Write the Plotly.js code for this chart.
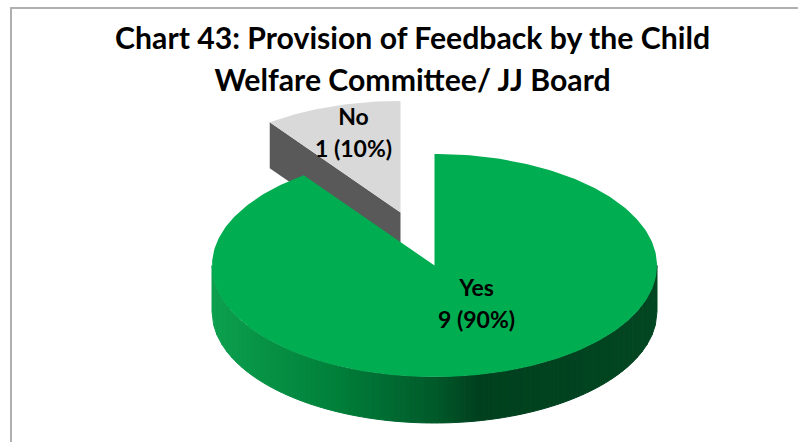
<!DOCTYPE html>
<html>
<head>
<meta charset="utf-8">
<script src="https://cdn.plot.ly/plotly-3.0.1.min.js"></script>
<style>html,body{margin:0;padding:0;background:#fff}#c{width:798px;height:442px}</style>
</head>
<body>
<div id="c"></div>
<script>
var categories = ['Yes', 'No'];
var values = [9, 1];
var titleLines = ['Chart 43: Provision of Feedback by the Child', 'Welfare Committee/ JJ Board'];

var W = 798, H = 442;
var cx = 434.5, cy = 265.5, rx = 222.5, ry = 111.5, depth = 46;
var explode = {dx: -34, dy: -53};
var fontFam = 'Lato, Carlito, Calibri, sans-serif';
var wallStops = [[-1,[12,160,78]],[-0.45,[0,128,58]],[0,[0,90,42]],[0.2,[0,64,30]],[1,[2,70,33]]];

var total = values.reduce(function(a,b){return a+b;},0);
var yesSweep = values[0]/total*2*Math.PI;
var rad = Math.PI/180;

function pt(c, t){ return [c.x + rx*Math.sin(t), c.y - ry*Math.cos(t)]; }
function poly(pts, color, name, lw){
  return {type:'scatter', mode:'lines', x:pts.map(function(p){return p[0];}), y:pts.map(function(p){return p[1];}),
    fill:'toself', fillcolor:color, line:{color:color, width:lw||0}, hoverinfo:'skip', showlegend:false, name:name||''};
}
function wedge(c, t0, t1){
  var pts=[[c.x,c.y]], n=Math.max(4,Math.round(Math.abs(t1-t0)/rad));
  for(var i=0;i<=n;i++) pts.push(pt(c,t0+(t1-t0)*i/n));
  pts.push([c.x,c.y]);
  return pts;
}
function wallColor(u){
  for(var i=1;i<wallStops.length;i++){
    if(u<=wallStops[i][0]){
      var a=wallStops[i-1],b=wallStops[i],f=(u-a[0])/(b[0]-a[0]);
      return 'rgb('+[0,1,2].map(function(k){return Math.round(a[1][k]+(b[1][k]-a[1][k])*f);}).join(',')+')';
    }
  }
  return 'rgb(2,70,33)';
}

var traces = [];
var yesC = {x:cx, y:cy};
var noC = {x:cx+explode.dx, y:cy+explode.dy};

// "No" slice: cut wall, then top
var a = pt(noC, yesSweep), noEnd = [noC.x, noC.y];
traces.push(poly([a, noEnd, [noEnd[0],noEnd[1]+depth], [a[0],a[1]+depth], a], '#595959', 'No wall'));
traces.push(poly(wedge(noC, yesSweep, 2*Math.PI), '#d9d9d9', categories[1]));

// "Yes" slice: outer wall as vertical strips, then top
var strips = 90;
for(var i=0;i<strips;i++){
  var u0=-1+2*i/strips, u1=-1+2*(i+1)/strips, pts=[], j;
  for(j=0;j<=3;j++){
    var u=u0+(u1-u0)*j/3;
    pts.push([cx+rx*u, cy+ry*Math.sqrt(Math.max(0,1-u*u))]);
  }
  for(j=3;j>=0;j--){
    var v=u0+(u1-u0)*j/3;
    pts.push([cx+rx*v, cy+depth+ry*Math.sqrt(Math.max(0,1-v*v))]);
  }
  pts.push(pts[0]);
  traces.push(poly(pts, wallColor((u0+u1)/2), 'wall', 1));
}
traces.push(poly(wedge(yesC, 0, yesSweep), '#00ad50', categories[0]));

// data labels
function sized(s, px){ return '<span style="font-size:'+px+'px"><b>'+s+'</b></span>'; }
function label(i){ return sized(categories[i],23)+'<br>'+sized(values[i]+' ('+Math.round(values[i]/total*100)+'%)',23); }
var ann = function(i,x,y){ return {xref:'x',yref:'y',x:x,y:y,text:label(i),showarrow:false,align:'center',xanchor:'center',yanchor:'middle',
  font:{family:fontFam,size:24.5,color:'#000'}}; };

var layout = {
  width:W, height:H, margin:{l:0,r:0,t:0,b:0,pad:0}, paper_bgcolor:'#fff', plot_bgcolor:'#fff', showlegend:false,
  xaxis:{range:[0,W],visible:false,fixedrange:true},
  yaxis:{range:[H,0],visible:false,fixedrange:true},
  title:{text:sized(titleLines[0],30.2)+'<br>'+sized(titleLines[1],30.2), x:0.517, xanchor:'center', y:0.889, yanchor:'middle', yref:'paper',
    font:{family:fontFam,size:32.3,color:'#000'}},
  annotations:[ann(0,476,303), ann(1,353.5,132)],
  shapes:[
    {type:'line',xref:'x',yref:'y',x0:11,x1:11,y0:7,y1:H,line:{color:'#b0b0b0',width:2},layer:'below'},
    {type:'line',xref:'x',yref:'y',x0:10,x1:W,y0:8,y1:8,line:{color:'#b0b0b0',width:2},layer:'below'}
  ]
};
Plotly.newPlot('c', traces, layout, {displayModeBar:false, staticPlot:true});
</script>
</body>
</html>
